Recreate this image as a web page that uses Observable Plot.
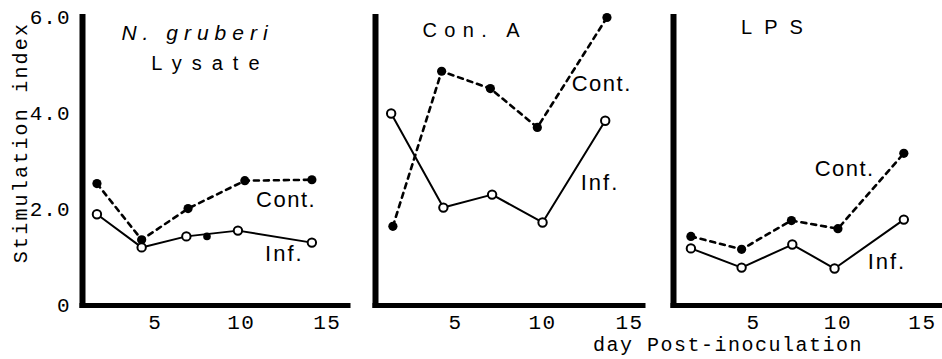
<!DOCTYPE html>
<html><head><meta charset="utf-8">
<script src="https://cdn.jsdelivr.net/npm/d3@7"></script>
<script src="https://cdn.jsdelivr.net/npm/@observablehq/plot@0.6"></script>
<style>
body{margin:0;background:#fff;}
#chart{position:relative;width:942px;height:359px;overflow:hidden;background:#fff;}
#chart > svg{position:absolute;top:0;}
#xlabel{position:absolute;left:593px;top:336px;font:20px/20px "Liberation Mono",monospace;letter-spacing:1.5px;white-space:pre;color:#000;}
</style>
</head><body>
<div id="chart"><div id="xlabel">day Post-inoculation</div></div>
<script>
// ---- data ----
const panelNames = ["N. gruberi Lysate", "Con. A", "LPS"];
const seriesNames = ["Cont.", "Inf."];
const yTicks = [0, 2, 4, 6];
const xTicks = [5, 10, 15];
const yLabel = "Stimulation index";

// N. gruberi lysate
const lysContDays = [1.6, 4.2, 6.9, 10.2, 14.1];
const lysCont     = [2.54, 1.37, 2.02, 2.60, 2.62];
const lysInfDays  = [1.6, 4.2, 6.8, 9.8, 14.1];
const lysInf      = [1.90, 1.21, 1.44, 1.56, 1.31];
const lysStrayDay = [8.0];
const lysStray    = [1.44];

// Con. A
const conContDays = [1.4, 4.2, 7.0, 9.7, 13.7];
const conCont     = [1.65, 4.88, 4.52, 3.71, 6.0];
const conInfDays  = [1.3, 4.3, 7.1, 10.0, 13.6];
const conInf      = [4.0, 2.04, 2.31, 1.73, 3.85];

// LPS
const lpsContDays = [1.3, 4.3, 7.25, 10.0, 13.9];
const lpsCont     = [1.44, 1.17, 1.77, 1.60, 3.17];
const lpsInfDays  = [1.3, 4.3, 7.3, 9.8, 13.9];
const lpsInf      = [1.19, 0.79, 1.27, 0.77, 1.79];

// ---- build ----
const series = (days, vals) => days.map((d, i) => ({day: d, value: vals[i]}));
const SANS = "Liberation Sans, Arial, sans-serif";
const MONO = "Liberation Mono, Courier New, monospace";

// letter spacing by text content (applied after rendering)
const spacing = {
  "N. gruberi": "6px", "Lysate": "10px", "Con. A": "7.4px", "LPS": "12px",
  "Cont.": "1.5px", "Inf.": "2px", "Stimulation index": "2.2px",
  "5": "1.5px", "10": "1.5px", "15": "1.5px", "0": "1px", "2.0": "1px", "4.0": "1px", "6.0": "1px"
};

function panel(o) {
  const marks = [
    Plot.ruleX([o.xDomain[0]], {y1: 0, y2: 6, stroke: "black", strokeWidth: 6, strokeLinecap: "square"}),
    Plot.ruleY([0], {x1: o.xDomain[0], x2: o.xDomain[1], stroke: "black", strokeWidth: 5, strokeLinecap: "square"}),
    Plot.axisX({ticks: xTicks, tickSize: 0, tickPadding: 9, label: null, fontSize: 21, fontFamily: MONO}),
    Plot.line(o.cont, {x: "day", y: "value", stroke: "black", strokeWidth: 2.6, strokeDasharray: "5,5"}),
    Plot.line(o.inf, {x: "day", y: "value", stroke: "black", strokeWidth: 2}),
    Plot.dot(o.cont, {x: "day", y: "value", r: 4.6, fill: "black"}),
    Plot.dot(o.inf, {x: "day", y: "value", r: 4.2, fill: "white", stroke: "black", strokeWidth: 2}),
    Plot.text(o.labels, {x: "x", y: "y", text: "text", fontFamily: SANS, fontSize: 22})
  ];
  if (o.extra) marks.push(Plot.dot(o.extra, {x: "day", y: "value", r: 3.8, fill: "black"}));
  for (const t of o.titles) {
    marks.push(Plot.text([t], {x: "x", y: "y", text: "text", fontFamily: SANS, fontSize: t.size,
      fontStyle: t.italic ? "italic" : "normal"}));
  }
  if (o.yAxis) {
    marks.push(Plot.axisY({ticks: yTicks, tickSize: 0, tickPadding: 12, label: null, fontSize: 21, fontFamily: MONO,
      tickFormat: d => d === 0 ? "0" : d.toFixed(1)}));
    marks.push(Plot.text([yLabel], {frameAnchor: "left", textAnchor: "middle", rotate: -90, dx: -62, dy: -19,
      fontSize: 20, fontFamily: MONO}));
  }
  const svg = Plot.plot({
    width: o.width, height: 359,
    marginLeft: o.marginLeft, marginRight: o.marginRight, marginTop: 17, marginBottom: 54,
    x: {domain: o.xDomain},
    y: {domain: [0, 6], axis: o.yAxis ? undefined : null},
    style: {fontFamily: MONO, fontSize: "20px", background: "transparent", color: "black"},
    marks
  });
  svg.style.left = o.left + "px";
  svg.querySelectorAll("text").forEach(el => {
    const ls = spacing[el.textContent];
    if (ls) el.style.letterSpacing = ls;
  });
  return svg;
}

const chart = document.getElementById("chart");

chart.appendChild(panel({
  left: 0, width: 355, marginLeft: 82, marginRight: 7, xDomain: [0.76, 16.23],
  cont: series(lysContDays, lysCont), inf: series(lysInfDays, lysInf), extra: series(lysStrayDay, lysStray),
  labels: [{text: seriesNames[0], x: 12.6, y: 2.19}, {text: seriesNames[1], x: 12.5, y: 1.08}],
  titles: [{text: "N. gruberi", x: 7.45, y: 5.67, size: 21, italic: true},
           {text: "Lysate", x: 8.2, y: 5.04, size: 20}],
  yAxis: true
}));

chart.appendChild(panel({
  left: 355, width: 295, marginLeft: 20, marginRight: 7, xDomain: [0.4, 15.8],
  cont: series(conContDays, conCont), inf: series(conInfDays, conInf),
  labels: [{text: seriesNames[0], x: 13.4, y: 4.62}, {text: seriesNames[1], x: 13.3, y: 2.56}],
  titles: [{text: panelNames[1], x: 6.1, y: 5.73, size: 20}],
  yAxis: false
}));

chart.appendChild(panel({
  left: 650, width: 292, marginLeft: 23, marginRight: 2, xDomain: [0.27, 16.07],
  cont: series(lpsContDays, lpsCont), inf: series(lpsInfDays, lpsInf),
  labels: [{text: seriesNames[0], x: 10.4, y: 2.85}, {text: seriesNames[1], x: 12.9, y: 0.90}],
  titles: [{text: panelNames[2], x: 6.45, y: 5.79, size: 20}],
  yAxis: false
}));
</script>
</body></html>
